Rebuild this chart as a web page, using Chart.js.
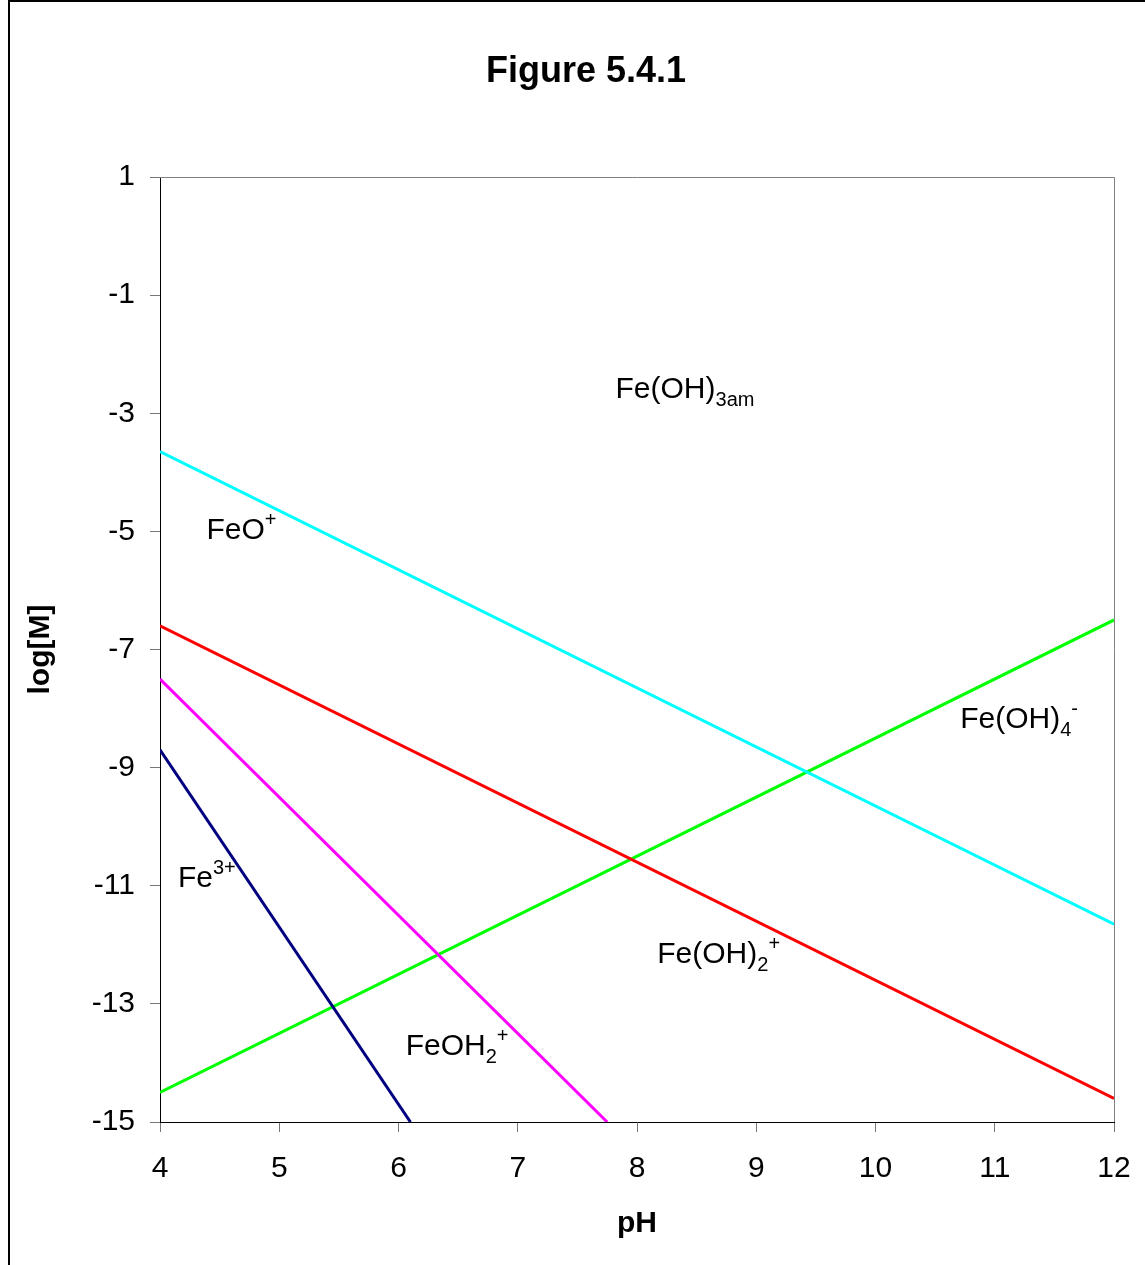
<!DOCTYPE html>
<html>
<head>
<meta charset="utf-8">
<title>Figure 5.4.1</title>
<script src="https://cdn.jsdelivr.net/npm/chart.js@4.4.1/dist/chart.umd.min.js"></script>
<style>
  html, body { margin: 0; padding: 0; background: #fff; }
  #wrap { width: 1145px; height: 1265px; overflow: hidden; }
</style>
</head>
<body>
<div id="wrap"><canvas id="grafico" width="1145" height="1265"></canvas></div>
<script>
// log[M] x pH das especies de Fe(III)
var pHTicks = [4, 5, 6, 7, 8, 9, 10, 11, 12];
var logTicks = [1, -1, -3, -5, -7, -9, -11, -13, -15];

var phFeO = [4, 12];
var logFeO = [-3.65, -11.65];
var phFeOH2 = [4, 12];
var logFeOH2 = [-6.6, -14.6];
var phFeOH = [4, 7.75];
var logFeOH = [-7.5, -15];
var phFe3 = [4, 6.1];
var logFe3 = [-8.7, -15];
var phFeOH4 = [4, 12];
var logFeOH4 = [-14.5, -6.5];

// nomes das especies: 0 normal, 1 subscrito, 2 sobrescrito
var rotulos = [
    { ph: 7.82, log: -2.74, partes: [['Fe(OH)', 0], ['3am', 1]] },
    { ph: 4.39, log: -5.13, partes: [['FeO', 0], ['+', 2]] },
    { ph: 10.71, log: -8.33, partes: [['Fe(OH)', 0], ['4', 1], ['-', 2]] },
    { ph: 4.15, log: -11.02, partes: [['Fe', 0], ['3+', 2]] },
    { ph: 8.17, log: -12.31, partes: [['Fe(OH)', 0], ['2', 1], ['+', 2]] },
    { ph: 6.06, log: -13.87, partes: [['FeOH', 0], ['2', 1], ['+', 2]] }
];

var fonte = '"Liberation Sans", Arial, sans-serif';
Chart.defaults.font.family = fonte;
Chart.defaults.color = '#000';

function serie(xs, ys, cor) {
    return {
        data: xs.map(function (v, i) { return { x: v, y: ys[i] }; }),
        showLine: true,
        borderColor: cor,
        borderWidth: 3,
        pointRadius: 0,
        fill: false
    };
}

var desenhos = {
    id: 'desenhos',
    afterDraw: function (chart) {
        var ctx = chart.ctx, a = chart.chartArea;
        var sx = chart.scales.x, sy = chart.scales.y;
        ctx.save();
        // moldura do grafico
        ctx.fillStyle = '#000';
        ctx.fillRect(8, 0, 2, chart.height);
        ctx.fillRect(8, 0, chart.width, 2);
        // borda cinza em cima e na direita
        ctx.strokeStyle = '#808080';
        ctx.lineWidth = 1;
        ctx.beginPath();
        ctx.moveTo(a.left, a.top + 0.5);
        ctx.lineTo(a.right + 0.5, a.top + 0.5);
        ctx.lineTo(a.right + 0.5, a.bottom);
        ctx.stroke();
        // titulo
        ctx.fillStyle = '#000';
        ctx.font = 'bold 36px ' + fonte;
        ctx.textAlign = 'center';
        ctx.textBaseline = 'alphabetic';
        ctx.fillText('Figure 5.4.1', 586, 82);
        // rotulos
        ctx.textAlign = 'left';
        rotulos.forEach(function (r) {
            var px = sx.getPixelForValue(r.ph), py = sy.getPixelForValue(r.log);
            r.partes.forEach(function (p) {
                ctx.font = (p[1] === 0 ? '30px ' : '20px ') + fonte;
                var dy = p[1] === 1 ? 8 : (p[1] === 2 ? -13 : 0);
                ctx.fillText(p[0], px, py + dy);
                px += ctx.measureText(p[0]).width;
            });
        });
        ctx.restore();
    }
};

new Chart(document.getElementById('grafico'), {
    type: 'scatter',
    data: {
        datasets: [
            serie(phFeO, logFeO, '#00FFFF'),
            serie(phFeOH2, logFeOH2, '#FF0000'),
            serie(phFeOH, logFeOH, '#FF00FF'),
            serie(phFe3, logFe3, '#000080'),
            serie(phFeOH4, logFeOH4, '#00FF00')
        ]
    },
    options: {
        responsive: false,
        animation: false,
        layout: { padding: { left: 0, top: 177, right: 31, bottom: 0 } },
        plugins: { legend: { display: false }, tooltip: { enabled: false } },
        scales: {
            x: {
                type: 'linear',
                min: 4,
                max: 12,
                afterFit: function (s) { s.height = 143; s.paddingLeft = 0; s.paddingRight = 0; },
                afterBuildTicks: function (s) { s.ticks = pHTicks.map(function (v) { return { value: v }; }); },
                grid: { drawOnChartArea: false, tickLength: 10, tickColor: '#777' },
                border: { color: '#000', width: 1 },
                ticks: { font: { size: 30 }, padding: 19, maxRotation: 0 },
                title: { display: true, text: 'pH', font: { size: 30, weight: 'bold' }, padding: { top: 0, bottom: 23 } }
            },
            y: {
                type: 'linear',
                min: -15,
                max: 1,
                afterFit: function (s) { s.width = 160; s.paddingTop = 0; s.paddingBottom = 0; },
                afterBuildTicks: function (s) { s.ticks = logTicks.map(function (v) { return { value: v }; }); },
                grid: { drawOnChartArea: false, tickLength: 10, tickColor: '#777' },
                border: { color: '#000', width: 1 },
                ticks: { font: { size: 30 }, padding: 15 },
                title: { display: true, text: 'log[M]', font: { size: 30, weight: 'bold' }, padding: { top: 23, bottom: 0 } }
            }
        }
    },
    plugins: [desenhos]
});
</script>
</body>
</html>
